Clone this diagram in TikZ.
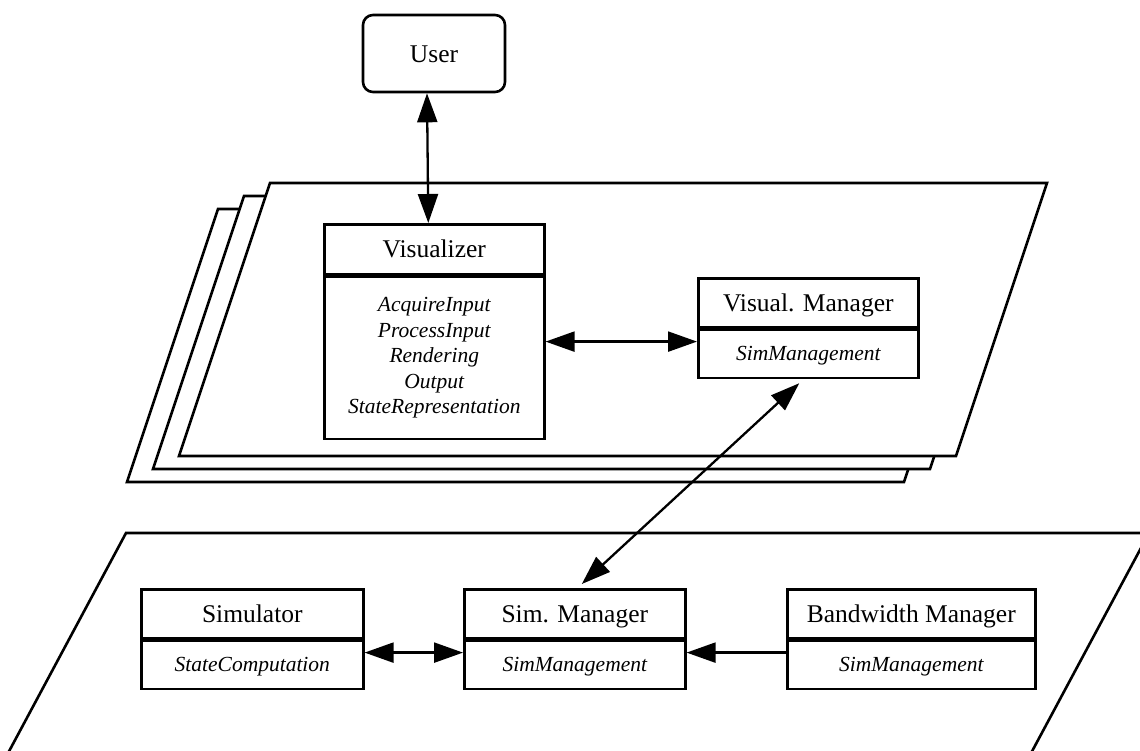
\documentclass[tikz,border=0pt]{standalone}
\usepackage{fontspec}
\setmainfont{Liberation Serif}
\usetikzlibrary{arrows.meta,calc}

\tikzset{
  plane/.style={draw=black, line width=2.6pt, fill=white, line join=miter},
  boxtitle/.style={draw=black, line width=2.6pt, fill=white, inner sep=0pt,
    text height=22pt, text depth=5pt, font=\fontsize{25.5}{30}\selectfont},
  boxbody/.style={draw=black, line width=2.6pt, fill=white, inner sep=0pt,
    align=center, font=\fontsize{21.5}{25.5}\selectfont\itshape},
  bodyline/.style={boxbody, text height=18pt, text depth=4pt},
  userbox/.style={draw=black, line width=2.6pt, fill=white, rounded corners=10pt,
    inner sep=0pt, minimum width=142pt, minimum height=77pt,
    text height=22pt, text depth=5pt, font=\fontsize{25.5}{30}\selectfont},
  bothways/.style={line width=2.3pt,
    {Triangle[length=29pt,width=20pt]}-{Triangle[length=29pt,width=20pt]}},
  oneway/.style={line width=2.3pt, -{Triangle[length=29pt,width=20pt]}}
}

\begin{document}
\begin{tikzpicture}[x=1pt, y=-1pt]
\useasboundingbox (0,0) rectangle (1140,750);

% stacked planes of the visualization layer, back to front
\draw[plane] (218,209) -- (995,209) -- (904,482) -- (127,482) -- cycle;
\draw[plane] (244,196) -- (1021,196) -- (930,469) -- (153,469) -- cycle;
\draw[plane] (270,183) -- (1047,183) -- (956,456) -- (179,456) -- cycle;

% simulation layer plane, running off the lower and right edges
\begin{scope}
  \clip (0,0) rectangle (1140,750);
  \draw[plane] (126,533) -- (1149,533) -- (1022,770) -- (-1,770) -- cycle;
\end{scope}

% user
\node[userbox] (user) at (434,53.5) {User};

% visualizer
\node[boxtitle, minimum width=220pt, minimum height=50pt, anchor=north west]
  (viz) at (323,223) {Visualizer};
\node[boxbody, minimum width=220pt, minimum height=162pt, anchor=north]
  (vizb) at (viz.south) {AcquireInput\\ProcessInput\\Rendering\\Output\\StateRepresentation};

% visualization manager
\node[boxtitle, minimum width=220pt, minimum height=49pt, anchor=north west]
  (vm) at (697,277) {Visual. Manager};
\node[bodyline, minimum width=220pt, minimum height=48pt, anchor=north]
  (vmb) at (vm.south) {SimManagement};

% simulator
\node[boxtitle, minimum width=222pt, minimum height=49pt, anchor=north west]
  (sim) at (140,588) {Simulator};
\node[bodyline, minimum width=222pt, minimum height=48pt, anchor=north]
  (simb) at (sim.south) {StateComputation};

% simulation manager
\node[boxtitle, minimum width=221pt, minimum height=49pt, anchor=north west]
  (sm) at (463,588) {Sim. Manager};
\node[bodyline, minimum width=221pt, minimum height=48pt, anchor=north]
  (smb) at (sm.south) {SimManagement};

% bandwidth manager
\node[boxtitle, minimum width=248pt, minimum height=49pt, anchor=north west]
  (bw) at (786,588) {Bandwidth Manager};
\node[bodyline, minimum width=248pt, minimum height=48pt, anchor=north]
  (bwb) at (bw.south) {SimManagement};

% connectors
\draw[bothways] ([xshift=-7pt]user.south) -- ([xshift=-6pt]viz.north);
\draw[bothways] ($(vizb.east |- vm.south)+(0,13)$) -- ($(vm.south west)+(0,13)$);
\draw[bothways] ([xshift=-9pt,yshift=-4pt]vmb.south) -- ([xshift=7pt,yshift=4pt]sm.north);
\draw[bothways] ($(simb.north east)+(0,13)$) -- ($(smb.north west)+(0,13)$);
\draw[oneway] ($(bwb.north west)+(0,13)$) -- ($(smb.north east)+(0,13)$);
\end{tikzpicture}
\end{document}
